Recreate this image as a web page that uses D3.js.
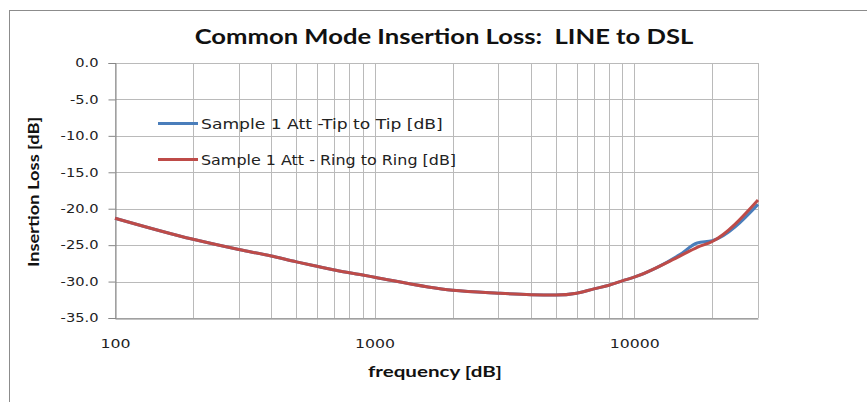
<!DOCTYPE html>
<html>
<head>
<meta charset="utf-8">
<script src="https://cdn.jsdelivr.net/npm/d3@7"></script>
<style>
  body { margin: 0; background: #fff; }
  svg { display: block; }
</style>
</head>
<body>
<svg id="chart"></svg>
<script>
const freqs = [100, 200, 300, 400, 500, 600, 700, 800, 900, 1000, 2000, 3000, 4000, 5000, 6000, 7000, 8000, 9000, 10000, 15000, 17500, 20000, 30000];
const tipToTip = [-21.3, -24.2, -25.6, -26.5, -27.3, -27.9, -28.4, -28.8, -29.1, -29.4, -31.2, -31.6, -31.8, -31.85, -31.6, -31.0, -30.5, -29.9, -29.4, -26.3, -24.7, -24.4, -19.4];
const ringToRing = [-21.3, -24.2, -25.6, -26.5, -27.3, -27.9, -28.4, -28.8, -29.1, -29.4, -31.2, -31.6, -31.8, -31.85, -31.6, -31.0, -30.5, -29.9, -29.4, -26.5, -25.3, -24.5, -18.8];
const seriesNames = ["Sample 1 Att -Tip to Tip [dB]", "Sample 1 Att - Ring to Ring [dB]"];
const seriesColors = ["#4a7ebb", "#be4b48"];
const yTicks = [0, -5, -10, -15, -20, -25, -30, -35];
const xLabelTicks = [100, 1000, 10000];

const width = 867;
const height = 402;
const margin = { left: 115, right: 109, top: 63, bottom: 84 };

const svg = d3.select("#chart").attr("width", width).attr("height", height);

// the picture is a bit stretched, so widen the glyphs
const stretch = (sel, k) => {
  sel.each(function () {
    const w = this.getComputedTextLength();
    d3.select(this).attr("textLength", w * k).attr("lengthAdjust", "spacingAndGlyphs");
  });
};

// outer frame
svg.append("rect")
  .attr("x", 9.5).attr("y", 10.5)
  .attr("width", 900).attr("height", 500)
  .attr("fill", "none").attr("stroke", "#8c8c8c");

const x = d3.scaleLog().domain([100, 30000]).range([margin.left, width - margin.right]);
const y = d3.scaleLinear().domain([-35, 0]).range([height - margin.bottom, margin.top]);

// grid: every 1..9 in each decade
const gridX = [];
for (let d = 100; d <= 10000; d *= 10) {
  for (let k = 1; k <= 9; k++) {
    const v = d * k;
    if (v <= 30000) gridX.push(v);
  }
}

const grid = svg.append("g").attr("stroke", "#bababa").attr("stroke-width", 1);
grid.selectAll("line.v")
  .data(gridX)
  .join("line")
  .attr("x1", d => Math.round(x(d)) + 0.5)
  .attr("x2", d => Math.round(x(d)) + 0.5)
  .attr("y1", y(0))
  .attr("y2", y(-35));

grid.selectAll("line.h")
  .data(yTicks)
  .join("line")
  .attr("x1", x(100))
  .attr("x2", x(30000))
  .attr("y1", d => Math.round(y(d)) + 0.5)
  .attr("y2", d => Math.round(y(d)) + 0.5);

svg.append("line")
  .attr("x1", Math.round(x(30000)) + 0.5).attr("x2", Math.round(x(30000)) + 0.5)
  .attr("y1", y(0)).attr("y2", y(-35))
  .attr("stroke", "#bababa");

// y axis
const yAxis = svg.append("g")
  .attr("transform", `translate(${Math.round(x(100)) + 0.5},0)`)
  .call(d3.axisLeft(y).tickValues(yTicks).tickSize(7).tickPadding(10));
yAxis.selectAll("path, line").attr("stroke", "#868686");
yAxis.selectAll("text")
  .attr("font-family", "DejaVu Sans, Verdana, sans-serif")
  .attr("font-size", "12px")
  .attr("fill", "#222")
  .text(d => d.toFixed(1))
  .call(stretch, 1.22);

// x axis
const xAxis = svg.append("g")
  .attr("transform", `translate(0,${Math.round(y(-35)) + 0.5})`)
  .call(d3.axisBottom(x).tickValues(xLabelTicks).tickSize(0).tickPadding(21).tickFormat(d3.format("d")));
xAxis.selectAll("path").attr("stroke", "#868686");
xAxis.selectAll("text")
  .attr("font-family", "DejaVu Sans, Verdana, sans-serif")
  .attr("font-size", "12px")
  .attr("fill", "#222")
  .call(stretch, 1.31);

// lines
const line = d3.line()
  .x((d, i) => x(freqs[i]))
  .y(d => y(d))
  .curve(d3.curveMonotoneX);

[tipToTip, ringToRing].forEach((vals, i) => {
  svg.append("path")
    .attr("d", line(vals))
    .attr("fill", "none")
    .attr("stroke", seriesColors[i])
    .attr("stroke-width", 3)
    .attr("stroke-linejoin", "round");
});

// legend
const legendStretch = [1.27, 1.18];
const legend = svg.append("g");
seriesNames.forEach((name, i) => {
  const ly = 123.5 + i * 36;
  legend.append("line")
    .attr("x1", 158).attr("x2", 198)
    .attr("y1", ly).attr("y2", ly)
    .attr("stroke", seriesColors[i])
    .attr("stroke-width", 3);
  legend.append("text")
    .attr("x", 201)
    .attr("y", ly + 5)
    .attr("font-family", "DejaVu Sans, Verdana, sans-serif")
    .attr("font-size", "13.5px")
    .attr("fill", "#222")
    .text(name)
    .call(stretch, legendStretch[i]);
});

// title
svg.append("text")
  .attr("x", 444).attr("y", 44)
  .attr("text-anchor", "middle")
  .attr("font-family", "Lato, sans-serif")
  .attr("font-weight", "bold")
  .attr("font-size", "21px")
  .attr("fill", "#111")
  .style("white-space", "pre")
  .text("Common Mode Insertion Loss:  LINE to DSL")
  .call(stretch, 1.22);

// axis titles
svg.append("text")
  .attr("x", 435).attr("y", 377)
  .attr("text-anchor", "middle")
  .attr("font-family", "Lato, sans-serif")
  .attr("font-weight", "bold")
  .attr("font-size", "14.5px")
  .attr("fill", "#111")
  .text("frequency [dB]")
  .call(stretch, 1.42);

svg.append("text")
  .attr("transform", "translate(39,192) rotate(-90)")
  .attr("text-anchor", "middle")
  .attr("font-family", "Lato, sans-serif")
  .attr("font-weight", "bold")
  .attr("font-size", "14.5px")
  .attr("fill", "#111")
  .text("Insertion Loss [dB]")
  .call(stretch, 1.26);
</script>
</body>
</html>
